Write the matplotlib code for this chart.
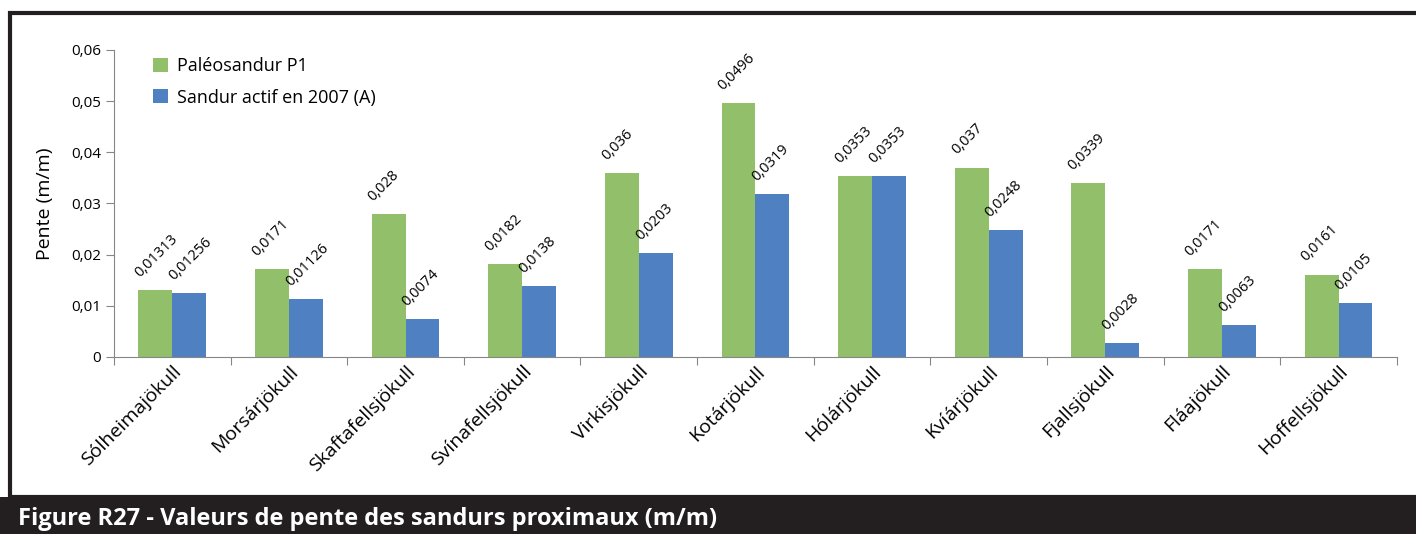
import matplotlib.pyplot as plt
import matplotlib.patches as mpatches
import numpy as np

plt.rcParams['font.family'] = ['Open Sans', 'DejaVu Sans']

glaciers = ['Sólheimajökull', 'Morsárjökull', 'Skaftafellsjökull', 'Svínafellsjökull',
            'Virkisjökull', 'Kotárjökull', 'Hólárjökull', 'Kvíárjökull',
            'Fjallsjökull', 'Fláajökull', 'Hoffellsjökull']
paleo = [0.01313, 0.0171, 0.028, 0.0182, 0.036, 0.0496, 0.0353, 0.037, 0.0339, 0.0171, 0.0161]
actif = [0.01256, 0.01126, 0.0074, 0.0138, 0.0203, 0.0319, 0.0353, 0.0248, 0.0028, 0.0063, 0.0105]
paleo_txt = ['0,01313', '0,0171', '0,028', '0,0182', '0,036', '0,0496', '0,0353', '0,037', '0,0339', '0,0171', '0,0161']
actif_txt = ['0,01256', '0,01126', '0,0074', '0,0138', '0,0203', '0,0319', '0,0353', '0,0248', '0,0028', '0,0063', '0,0105']
yticks = [0, 0.01, 0.02, 0.03, 0.04, 0.05, 0.06]
ytick_txt = ['0', '0,01', '0,02', '0,03', '0,04', '0,05', '0,06']

green = '#92bf6a'
blue = '#4f81c2'

fig = plt.figure(figsize=(14.16, 5.34), dpi=100)
ax = fig.add_axes([0.0805, 0.3315, 0.906, 0.575])

x = np.arange(len(glaciers))
w = 0.29
ax.bar(x - w / 2, paleo, w, color=green, label='Paléosandur P1')
ax.bar(x + w / 2, actif, w, color=blue, label='Sandur actif en 2007 (A)')

for xs, vals, txts in [(x - w / 2, paleo, paleo_txt), (x + w / 2, actif, actif_txt)]:
    for xi, v, t in zip(xs, vals, txts):
        ax.annotate(t, (xi, v), xytext=(-9, 7), textcoords='offset points',
                    rotation=45, ha='left', va='bottom', fontsize=10.5,
                    rotation_mode='anchor')

ax.set_xlim(-0.5, len(glaciers) - 0.5)
ax.set_ylim(0, 0.06)
ax.set_yticks(yticks)
ax.set_yticklabels(ytick_txt, fontsize=11)
ax.set_xticks(np.arange(len(glaciers) + 1) - 0.5)
ax.set_xticklabels([])
ax.set_xticks(x, minor=True)
ax.set_xticklabels(glaciers, minor=True, rotation=45, ha='right', va='top',
                   rotation_mode='anchor', fontsize=14)
ax.tick_params(axis='x', which='minor', length=0, pad=4)
ax.tick_params(axis='x', which='major', length=6, color='#868686')
ax.tick_params(axis='y', length=6, color='#868686')
ax.set_ylabel('Pente (m/m)', fontsize=14, labelpad=12)
for s in ['top', 'right']:
    ax.spines[s].set_visible(False)
for s in ['left', 'bottom']:
    ax.spines[s].set_color('#868686')

ax.legend(loc='upper left', bbox_to_anchor=(0.018, 1.03), frameon=False, fontsize=13,
          handlelength=0.8, handleheight=0.8, handletextpad=0.5, labelspacing=0.75)

# outer frame and caption band
fig.patches.append(mpatches.Rectangle((10 / 1416, 37 / 534), 1.1, 484 / 534, transform=fig.transFigure,
                                      fill=False, edgecolor='#231f20', linewidth=3))
fig.patches.append(mpatches.Rectangle((0, 0), 1, 37 / 534, transform=fig.transFigure,
                                      facecolor='#231f20', edgecolor='none'))
fig.text(18 / 1416, 15 / 534, 'Figure R27 - Valeurs de pente des sandurs proximaux (m/m)',
         color='white', fontsize=17, fontweight='bold', va='center', ha='left')

fig.savefig('out.png', dpi=100)
